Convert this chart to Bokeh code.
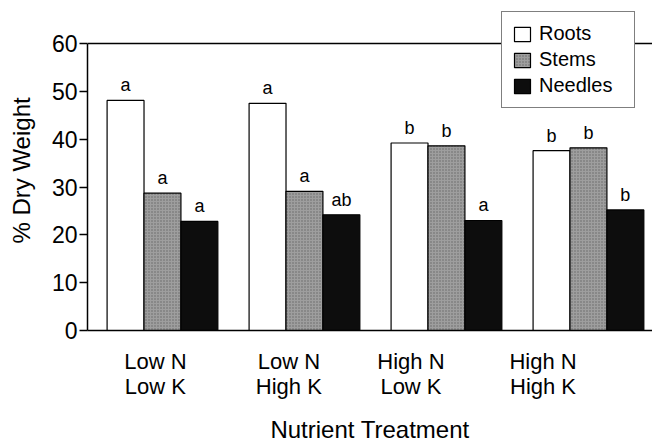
from bokeh.plotting import figure
from bokeh.models import (ColumnDataSource, FixedTicker, CustomJSTickFormatter, Span,
                          Legend, LegendItem, Range1d)
from bokeh.core.properties import value
from bokeh.embed import file_html
from bokeh.resources import INLINE

# ---- data ----
treatments = ["Low N\nLow K", "Low N\nHigh K", "High N\nLow K", "High N\nHigh K"]
roots = [48.1, 47.5, 39.2, 37.6]
stems = [28.7, 29.1, 38.6, 38.2]
needles = [22.8, 24.2, 23.0, 25.2]
roots_sig = ["a", "a", "b", "b"]
stems_sig = ["a", "a", "b", "b"]
needles_sig = ["a", "ab", "a", "b"]
y_ticks = [0, 10, 20, 30, 40, 50, 60]

# ---- layout constants ----
FONT = "Liberation Sans"
BW = 0.26
label_shift = [-0.05, -0.11, -0.25, -0.32]

idx = list(range(len(treatments)))

p = figure(width=652, height=445, output_backend="svg", toolbar_location=None,
           x_range=Range1d(-0.528, 3.451), y_range=Range1d(0, 66.9),
           min_border_left=87, min_border_right=0, min_border_top=10, min_border_bottom=115)
p.outline_line_color = None
p.grid.visible = False
p.background_fill_color = "white"
p.border_fill_color = "white"

series = [
    ("Roots", roots, roots_sig, -BW, dict(fill_color="white")),
    ("Stems", stems, stems_sig, 0.0, dict(fill_color="#9e9e9e", hatch_pattern="dot",
                                          hatch_color="#666666", hatch_scale=3, hatch_weight=1)),
    ("Needles", needles, needles_sig, BW, dict(fill_color="#0d0d0d")),
]

items = []
for name, vals, sig, off, style in series:
    src = ColumnDataSource(dict(x=[i + off for i in idx], top=vals, sig=sig))
    r = p.vbar(x="x", top="top", width=BW, bottom=0, source=src,
               line_color="black", line_width=1.2, **style)
    items.append(LegendItem(label=name, renderers=[r]))
    p.text(x="x", y="top", text="sig", source=src, text_align="center",
           text_baseline="bottom", y_offset=-5, text_font=value(FONT),
           text_font_size="18px", text_color="black")

p.add_layout(Span(location=60, dimension="width", line_color="black", line_width=1.3))

legend = Legend(items=items, location=(414, 222), orientation="vertical",
                label_text_font=FONT, label_text_font_size="20px", label_text_color="black",
                glyph_width=20, glyph_height=18, spacing=3, padding=10, label_width=85,
                label_standoff=7, border_line_color="black", border_line_width=1.3,
                background_fill_color="white", background_fill_alpha=1.0,
                margin=0)
p.add_layout(legend)

# y axis
ya = p.yaxis[0]
ya.ticker = FixedTicker(ticks=y_ticks)
ya.bounds = (0, 60)
ya.minor_tick_line_color = None
ya.major_tick_in = 0
ya.major_tick_out = 8
ya.major_tick_line_width = 1.3
ya.major_tick_line_color = "black"
ya.axis_line_width = 1.5
ya.axis_line_color = "black"
ya.major_label_text_font = FONT
ya.major_label_text_font_size = "23px"
ya.major_label_text_color = "black"
ya.major_label_standoff = 2
ya.axis_label = "% Dry Weight"
ya.axis_label_text_font = FONT
ya.axis_label_text_font_size = "24px"
ya.axis_label_text_font_style = "normal"
ya.axis_label_text_color = "black"
ya.axis_label_standoff = 14

# x axis
xa = p.xaxis[0]
xa.ticker = FixedTicker(ticks=[i + s for i, s in zip(idx, label_shift)])
xa.formatter = CustomJSTickFormatter(args=dict(labels=treatments), code="return labels[index];")
xa.major_tick_line_color = None
xa.minor_tick_line_color = None
xa.axis_line_width = 1.5
xa.axis_line_color = "black"
xa.major_label_text_font = FONT
xa.major_label_text_font_size = "22px"
xa.major_label_text_color = "black"
xa.major_label_text_line_height = 1.0
xa.major_label_standoff = 12
xa.axis_label = "Nutrient Treatment"
xa.axis_label_text_font = FONT
xa.axis_label_text_font_size = "24px"
xa.axis_label_text_font_style = "normal"
xa.axis_label_text_color = "black"
xa.axis_label_standoff = 14

open("out.html", "w").write(file_html(p, INLINE))
